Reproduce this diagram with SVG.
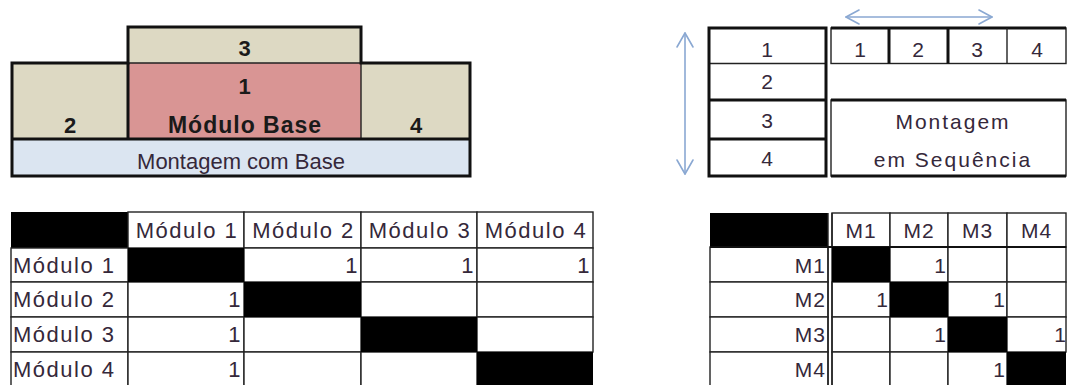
<svg xmlns="http://www.w3.org/2000/svg" width="1068" height="385" viewBox="0 0 1068 385">
<style>
text{font-family:"Liberation Sans",Arial,sans-serif;fill:#35283a}
.b{font-weight:bold;fill:#1a1a1a}
.tl{font-size:22px}
.tr{font-size:21px;letter-spacing:2px}
.tb{font-size:22px;letter-spacing:1.5px}
.rt{font-size:21px;letter-spacing:1px}
.thick{fill:none;stroke:#111;stroke-width:3}
.thin{fill:none;stroke:#222;stroke-width:1.4}
.cell{fill:#fff;stroke:#222;stroke-width:1.4}
.blk{fill:#000}
.arr{fill:none;stroke:#8aa8d2;stroke-width:1.6;stroke-linecap:round;stroke-linejoin:round}
</style>
<rect width="1068" height="385" fill="#fff"/>

<g id="montagem-com-base">
  <rect x="128" y="27" width="233" height="36" fill="#ddd9c3"/>
  <rect x="12" y="63" width="116" height="76" fill="#ddd9c3"/>
  <rect x="128" y="63" width="233" height="76" fill="#d99594"/>
  <rect x="361" y="63" width="109" height="76" fill="#ddd9c3"/>
  <rect x="12" y="139" width="458" height="37" fill="#dbe5f1"/>
  <path class="thin" d="M128,63 H361 V139 M361,63 H470"/>
  <path class="thick" d="M128,63 V139 M12,139 H470"/>
  <path class="thick" d="M12,63 H128 V27 H361 V63 H470 V176 H12 Z"/>
  <text class="tl b" x="244.5" y="56" text-anchor="middle">3</text>
  <text class="tl b" x="244.5" y="94" text-anchor="middle">1</text>
  <text class="b" x="245" y="133" text-anchor="middle" style="font-size:23px;letter-spacing:1px">Módulo Base</text>
  <text class="tl b" x="70" y="133" text-anchor="middle">2</text>
  <text class="tl b" x="416" y="133" text-anchor="middle">4</text>
  <text class="tl" x="241" y="169" text-anchor="middle">Montagem com Base</text>
</g>

<g id="montagem-em-sequencia">
  <rect x="709" y="28" width="117" height="148" fill="#fff"/>
  <path class="thin" d="M709,63.5 H826"/>
  <path class="thick" d="M709,100 H826 M709,139 H826"/>
  <rect class="thick" x="709" y="28" width="117" height="148"/>
  <rect class="thin" x="831" y="28" width="235" height="35.5"/>
  <path class="thick" d="M831,28 H1066 M889,28 V63.5 M948,28 V63.5"/>
  <path class="thin" d="M1007,28 V63.5"/>
  <rect class="thin" x="831" y="100" width="235" height="76"/>
  <path class="thick" d="M831,100 H1066 M831,176 H1066"/>
  <text class="tr" x="768" y="57" text-anchor="middle">1</text>
  <text class="tr" x="768" y="89" text-anchor="middle">2</text>
  <text class="tr" x="768" y="128" text-anchor="middle">3</text>
  <text class="tr" x="768" y="166" text-anchor="middle">4</text>
  <text class="tr" x="861" y="57" text-anchor="middle">1</text>
  <text class="tr" x="919" y="57" text-anchor="middle">2</text>
  <text class="tr" x="978" y="57" text-anchor="middle">3</text>
  <text class="tr" x="1038" y="57" text-anchor="middle">4</text>
  <text class="tr" x="953" y="129" text-anchor="middle">Montagem</text>
  <text class="tr" x="953" y="167" text-anchor="middle">em Sequência</text>
</g>

<g id="matriz-base">
  <rect class="blk" x="11" y="212" width="117" height="36"/>
  <g class="cell">
    <rect x="128" y="212" width="116" height="36"/><rect x="244" y="212" width="117" height="36"/><rect x="361" y="212" width="116" height="36"/><rect x="477" y="212" width="116" height="36"/>
    <rect x="11" y="248" width="117" height="34"/><rect x="244" y="248" width="117" height="34"/><rect x="361" y="248" width="116" height="34"/><rect x="477" y="248" width="116" height="34"/>
    <rect x="11" y="282" width="117" height="35"/><rect x="128" y="282" width="116" height="35"/><rect x="361" y="282" width="116" height="35"/><rect x="477" y="282" width="116" height="35"/>
    <rect x="11" y="317" width="117" height="35"/><rect x="128" y="317" width="116" height="35"/><rect x="244" y="317" width="117" height="35"/><rect x="477" y="317" width="116" height="35"/>
    <rect x="11" y="352" width="117" height="35"/><rect x="128" y="352" width="116" height="35"/><rect x="244" y="352" width="117" height="35"/><rect x="361" y="352" width="116" height="35"/>
  </g>
  <rect class="blk" x="128" y="248" width="116" height="34"/>
  <rect class="blk" x="244" y="282" width="117" height="35"/>
  <rect class="blk" x="361" y="317" width="116" height="35"/>
  <rect class="blk" x="477" y="352" width="116" height="35"/>
  <text class="tb" x="187" y="238" text-anchor="middle">Módulo 1</text>
  <text class="tb" x="303.5" y="238" text-anchor="middle">Módulo 2</text>
  <text class="tb" x="420" y="238" text-anchor="middle">Módulo 3</text>
  <text class="tb" x="536" y="238" text-anchor="middle">Módulo 4</text>
  <text class="tb" x="13" y="273">Módulo 1</text>
  <text class="tb" x="13" y="307">Módulo 2</text>
  <text class="tb" x="13" y="342">Módulo 3</text>
  <text class="tb" x="13" y="377">Módulo 4</text>
  <text class="tb" x="359" y="273" text-anchor="end">1</text>
  <text class="tb" x="475" y="273" text-anchor="end">1</text>
  <text class="tb" x="591" y="273" text-anchor="end">1</text>
  <text class="tb" x="242" y="307" text-anchor="end">1</text>
  <text class="tb" x="242" y="342" text-anchor="end">1</text>
  <text class="tb" x="242" y="377" text-anchor="end">1</text>
</g>

<g id="matriz-sequencia">
  <rect class="blk" x="710" y="213" width="118" height="34"/>
  <g class="cell">
    <rect x="832" y="213" width="58" height="34"/><rect x="890" y="213" width="58" height="34"/><rect x="948" y="213" width="59" height="34"/><rect x="1007" y="213" width="59" height="34"/>
    <rect x="710" y="247" width="118" height="35"/><rect x="890" y="247" width="58" height="35"/><rect x="948" y="247" width="59" height="35"/><rect x="1007" y="247" width="59" height="35"/>
    <rect x="710" y="282" width="118" height="35"/><rect x="832" y="282" width="58" height="35"/><rect x="948" y="282" width="59" height="35"/><rect x="1007" y="282" width="59" height="35"/>
    <rect x="710" y="317" width="118" height="35"/><rect x="832" y="317" width="58" height="35"/><rect x="890" y="317" width="58" height="35"/><rect x="1007" y="317" width="59" height="35"/>
    <rect x="710" y="352" width="118" height="35"/><rect x="832" y="352" width="58" height="35"/><rect x="890" y="352" width="58" height="35"/><rect x="948" y="352" width="59" height="35"/>
  </g>
  <path class="thin" d="M828,213 V387 M832,213 V387"/>
  <path fill="none" stroke="#111" stroke-width="2.2" d="M710,247 H1066"/>
  <rect class="blk" x="832" y="247" width="58" height="35"/>
  <rect class="blk" x="890" y="282" width="58" height="35"/>
  <rect class="blk" x="948" y="317" width="59" height="35"/>
  <rect class="blk" x="1007" y="352" width="59" height="35"/>
  <text class="rt" x="861" y="238" text-anchor="middle">M1</text>
  <text class="rt" x="919" y="238" text-anchor="middle">M2</text>
  <text class="rt" x="977.5" y="238" text-anchor="middle">M3</text>
  <text class="rt" x="1036.5" y="238" text-anchor="middle">M4</text>
  <text class="rt" x="826" y="273" text-anchor="end">M1</text>
  <text class="rt" x="826" y="307" text-anchor="end">M2</text>
  <text class="rt" x="826" y="342" text-anchor="end">M3</text>
  <text class="rt" x="826" y="377" text-anchor="end">M4</text>
  <text class="rt" x="947" y="273" text-anchor="end">1</text>
  <text class="rt" x="889" y="307" text-anchor="end">1</text>
  <text class="rt" x="1006" y="307" text-anchor="end">1</text>
  <text class="rt" x="947" y="342" text-anchor="end">1</text>
  <text class="rt" x="1067" y="342" text-anchor="end">1</text>
  <text class="rt" x="1006" y="377" text-anchor="end">1</text>
</g>

<g id="connectors">
  <path class="arr" d="M685,33 V174"/>
  <path class="arr" d="M677,47 L685,33 L693,47"/>
  <path class="arr" d="M677,160 L685,174 L693,160"/>
  <path class="arr" d="M846,17 H992"/>
  <path class="arr" d="M859,10 L846,17 L859,24"/>
  <path class="arr" d="M979,10 L992,17 L979,24"/>
</g>
</svg>
